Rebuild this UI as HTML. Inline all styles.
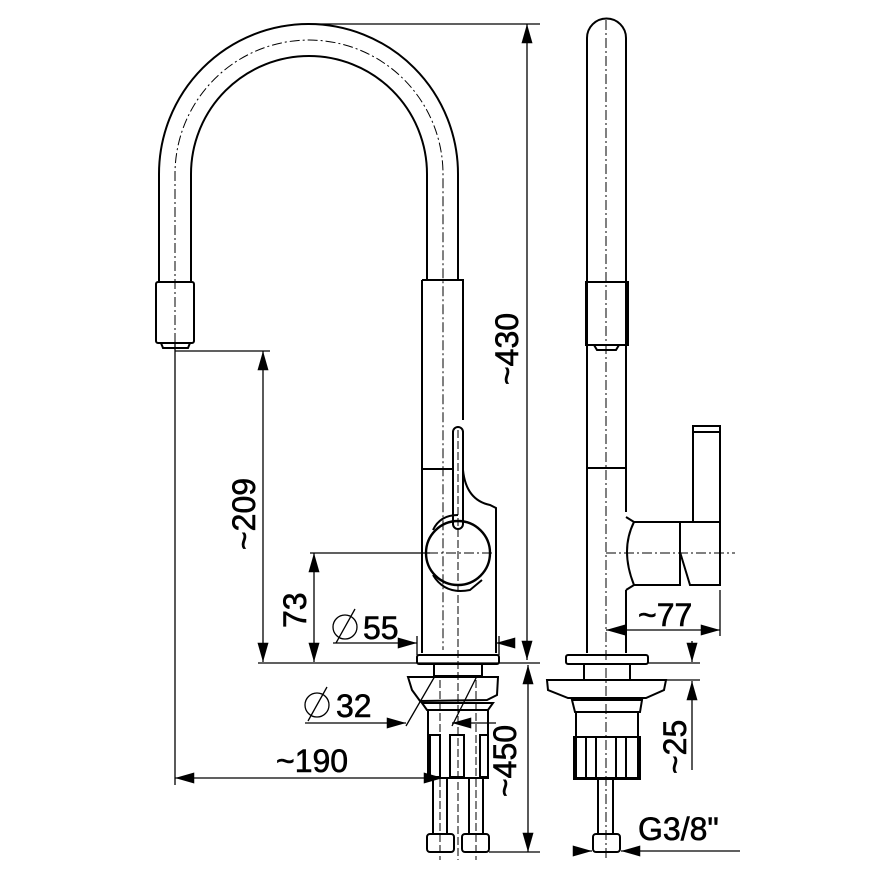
<!DOCTYPE html>
<html><head><meta charset="utf-8"><style>
html,body{margin:0;padding:0;background:#fff;}
svg{display:block;}
text{font-family:"Liberation Sans",sans-serif;font-size:32px;fill:#000;stroke:#000;stroke-width:0.6px;}
</style></head><body>
<svg width="870" height="870" viewBox="0 0 870 870" xmlns="http://www.w3.org/2000/svg">
<defs>
<marker id="a" viewBox="0 0 14 8" refX="14" refY="4" markerWidth="20" markerHeight="11" markerUnits="userSpaceOnUse" orient="auto-start-reverse"><path d="M0,0 L14,4 L0,8 z" fill="#000"/></marker>
</defs>
<g fill="none" stroke="#000" stroke-width="2">
<path d="M159,282 L159,174 A149.5,150 0 0 1 458,174 L458,280"/>
<path d="M191,282 L191,174 A118,118 0 0 1 427,174 L427,280"/>
<path d="M175,343 L175,174 A133,133 0 0 1 443,174 L443,650" stroke-width="1" stroke-dasharray="10,3,2,3"/>
<rect x="156" y="282" width="38" height="61" rx="2"/>
<path d="M161,343 L163,348 L188,348 L190,343"/>
<path d="M422,280 L463,280 L463,420"/>
<path d="M422,280 L422,653"/>
<line x1="422" y1="469" x2="452" y2="469"/>
<path d="M463,470 Q466,500 490,505 L496,508 L496,653"/>
<rect x="453" y="427" width="10" height="102" rx="5"/>
<circle cx="458" cy="553" r="32" stroke-width="2.4"/>
<path d="M433,530 Q440,515 458,515 M433,575 Q445,595 470,590 L482,580"/>
<line x1="410" y1="553" x2="500" y2="553" stroke-width="1" stroke-dasharray="10,3,2,3"/>
<line x1="458" y1="430" x2="458" y2="860" stroke-width="1" stroke-dasharray="8,3"/>
<rect x="417" y="655" width="82" height="9" rx="2"/>
<rect x="434" y="664" width="48" height="12"/>
<path d="M408,677 L498,677 L497,695 L487,700 L420,701 L412,690 z"/>
<path d="M422,703 L493,703 L488,710 L427,710 z"/>
<rect x="428" y="710" width="60" height="68"/>
<rect x="430" y="735" width="10" height="42"/><rect x="450" y="735" width="14" height="42"/><rect x="480" y="735" width="8" height="42"/>
<rect x="433" y="778" width="14" height="56"/><rect x="469" y="778" width="14" height="56"/>
<rect x="427" y="834" width="27" height="18" rx="3"/><rect x="462" y="834" width="27" height="18" rx="3"/>
<line x1="440" y1="680" x2="440" y2="860" stroke-width="1" stroke-dasharray="8,3"/>
<line x1="476" y1="680" x2="476" y2="860" stroke-width="1" stroke-dasharray="8,3"/>
<path d="M587,653 L587,38 A19.5,19.5 0 0 1 626,38 L626,512"/>
<line x1="626" y1="590" x2="626" y2="653"/>
<line x1="606" y1="20" x2="606" y2="860" stroke-width="1" stroke-dasharray="10,3,2,3"/>
<rect x="586" y="282" width="42" height="63"/>
<path d="M594,345 L597,350 L616,350 L619,345"/>
<line x1="587" y1="468" x2="626" y2="468"/>
<rect x="693" y="426" width="27" height="96"/>
<line x1="693" y1="432" x2="720" y2="432"/>
<path d="M626,517 L634,522 L680,522 L680,585 L634,585 L626,590"/>
<path d="M634,522 Q620,550 634,585"/>
<path d="M680,522 L720,522 L720,585 L690,585 L680,552 z"/>
<line x1="606" y1="553" x2="735" y2="553" stroke-width="1" stroke-dasharray="10,3,2,3"/>
<rect x="566" y="655" width="82" height="9" rx="2"/>
<rect x="584" y="664" width="46" height="16"/>
<path d="M547,680 L666,680 L664,690 L646,698 L568,698 L548,690 z"/>
<path d="M572,700 L642,700 L640,712 L575,712 z"/>
<rect x="576" y="712" width="62" height="66"/>
<rect x="574" y="737" width="66" height="42"/>
<rect x="586" y="737" width="10" height="42"/><rect x="616" y="737" width="10" height="42"/>
<rect x="598" y="778" width="15" height="56"/>
<rect x="593" y="834" width="27" height="18" rx="3"/>
<g stroke-width="1.3">
<line x1="308" y1="24" x2="540" y2="24"/>
<line x1="527" y1="24" x2="527" y2="660" marker-start="url(#a)" marker-end="url(#a)"/>
<line x1="420" y1="663" x2="540" y2="663"/>
<line x1="528" y1="665" x2="528" y2="852" marker-start="url(#a)" marker-end="url(#a)"/>
<line x1="489" y1="852" x2="540" y2="852"/>
<line x1="175" y1="351" x2="270" y2="351"/>
<line x1="263" y1="351" x2="263" y2="662" marker-start="url(#a)" marker-end="url(#a)"/>
<line x1="258" y1="663" x2="420" y2="663"/>
<line x1="310" y1="553" x2="430" y2="553"/>
<line x1="314" y1="553" x2="314" y2="662" marker-start="url(#a)" marker-end="url(#a)"/>
<line x1="333" y1="643" x2="417" y2="643" marker-end="url(#a)"/>
<line x1="512" y1="643" x2="496" y2="643" marker-end="url(#a)"/>
<line x1="417" y1="636" x2="417" y2="655"/>
<line x1="499" y1="636" x2="499" y2="655"/>
<line x1="305" y1="723" x2="406" y2="723" marker-end="url(#a)"/>
<line x1="496" y1="723" x2="452" y2="723" marker-end="url(#a)"/>
<line x1="406" y1="726" x2="435" y2="676"/>
<line x1="452" y1="726" x2="477" y2="676"/>
<line x1="175" y1="785" x2="175" y2="343"/>
<line x1="175" y1="778" x2="443" y2="778" marker-start="url(#a)" marker-end="url(#a)"/>
<line x1="606" y1="630" x2="720" y2="630" marker-start="url(#a)" marker-end="url(#a)"/>
<line x1="720" y1="590" x2="720" y2="636"/>
<line x1="648" y1="663" x2="700" y2="663"/>
<line x1="666" y1="680" x2="700" y2="680"/>
<line x1="692" y1="641" x2="692" y2="662" marker-end="url(#a)"/>
<line x1="692" y1="770" x2="692" y2="681" marker-end="url(#a)"/>
<line x1="575" y1="851" x2="592" y2="851" marker-end="url(#a)"/>
<line x1="740" y1="851" x2="621" y2="851" marker-end="url(#a)"/>
<circle cx="345" cy="627" r="12"/><line x1="336" y1="643" x2="355" y2="609"/>
<circle cx="317" cy="705" r="12"/><line x1="308" y1="721" x2="327" y2="687"/>
</g>
</g>
<text x="363" y="639">55</text>
<text x="336" y="717">32</text>
<text x="276" y="772">~190</text>
<text x="638" y="626">~77</text>
<text x="638" y="840">G3/8"</text>
<text transform="translate(518,385) rotate(-90)">~430</text>
<text transform="translate(255,550) rotate(-90)">~209</text>
<text transform="translate(306,628) rotate(-90)">73</text>
<text transform="translate(516,797) rotate(-90)">~450</text>
<text transform="translate(686,774) rotate(-90)">~25</text>
</svg>
</body></html>
